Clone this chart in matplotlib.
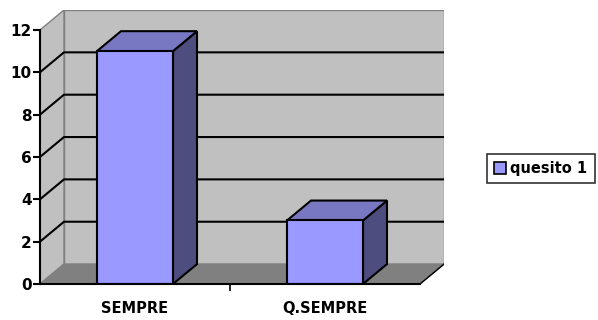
import matplotlib
matplotlib.use("Agg")
import matplotlib.pyplot as plt
from matplotlib.patches import Polygon, Patch

categories = ["SEMPRE", "Q.SEMPRE"]
values = [11, 3]
series_name = "quesito 1"
y_ticks = [0, 2, 4, 6, 8, 10, 12]

plt.rcParams["font.family"] = ["DejaVu Sans"]
plt.rcParams["font.weight"] = "bold"

W, H = 598, 320
fig = plt.figure(figsize=(W / 100, H / 100), dpi=100)

# plot box in pixels: front axis at x=40, back wall right at 444, floor y=284, wall top y=10
left, right, bottom, top = 40, 444, 284, 10
ax = fig.add_axes([left / W, 1 - bottom / H, (right - left) / W, (bottom - top) / H])

ymax = 12
px_per_y = 21.25
dy = 20 / px_per_y            # depth offset in y units
px_per_x = 190
dx = 24 / px_per_x            # depth offset in x units
ax.set_xlim(0, len(categories) + dx)
ax.set_ylim(0, ymax + dy)

wall = "#c0c0c0"
floor = "#808080"
edge = "#808080"
n = len(categories)

# back wall
ax.add_patch(Polygon([(dx, dy), (n + dx, dy), (n + dx, ymax + dy), (dx, ymax + dy)],
                     closed=True, facecolor=wall, edgecolor=edge, lw=1, zorder=1))
# left wall
ax.add_patch(Polygon([(0, 0), (dx, dy), (dx, ymax + dy), (0, ymax)],
                     closed=True, facecolor=wall, edgecolor=edge, lw=1, zorder=1))
# gridlines
for v in y_ticks[1:-1]:
    ax.plot([0, dx, n + dx], [v, v + dy, v + dy], color="black", lw=1.5, zorder=2,
            solid_capstyle="butt")
# floor
ax.add_patch(Polygon([(0, 0), (n, 0), (n + dx, dy), (dx, dy)],
                     closed=True, facecolor=floor, edgecolor=edge, lw=1, zorder=3))
ax.plot([n, n + dx], [0, dy], color="black", lw=1, zorder=3)

# bars
bw = 0.4
front_c = "#9999ff"
top_c = "#7878c2"
side_c = "#4d4d80"
for i, v in enumerate(values):
    c = i + 0.5
    x0, x1 = c - bw / 2, c + bw / 2
    ax.add_patch(Polygon([(x1, 0), (x1 + dx, dy), (x1 + dx, v + dy), (x1, v)],
                         closed=True, facecolor=side_c, edgecolor="black", lw=1.5, zorder=4))
    ax.add_patch(Polygon([(x0, v), (x1, v), (x1 + dx, v + dy), (x0 + dx, v + dy)],
                         closed=True, facecolor=top_c, edgecolor="black", lw=1.5, zorder=4))
    ax.add_patch(Polygon([(x0, 0), (x1, 0), (x1, v), (x0, v)],
                         closed=True, facecolor=front_c, edgecolor="black", lw=1.5, zorder=5))

# axes
for s in ["top", "right"]:
    ax.spines[s].set_visible(False)
ax.spines["left"].set_bounds(0, ymax)
ax.spines["bottom"].set_bounds(0, n)
ax.spines["left"].set_linewidth(1.5)
ax.spines["bottom"].set_linewidth(1.5)
ax.spines["left"].set_zorder(6)
ax.spines["bottom"].set_zorder(6)
ax.set_yticks(y_ticks)
ax.set_yticklabels([str(t) for t in y_ticks])
ax.tick_params(axis="y", direction="out", length=5, width=1.5, pad=1, labelsize=11)
ax.set_xticks([i + 0.5 for i in range(n)])
ax.set_xticklabels(categories)
ax.set_xticks([1], minor=True)
ax.tick_params(axis="x", which="major", length=0, pad=12, labelsize=10.5)
ax.tick_params(axis="x", which="minor", direction="out", length=5, width=1.2)
for lab in ax.get_xticklabels() + ax.get_yticklabels():
    lab.set_fontweight("bold")

leg = fig.legend(handles=[Patch(facecolor=front_c, edgecolor="black", lw=1.2)],
                 labels=[series_name], loc="center",
                 bbox_to_anchor=(541 / W, 1 - 168.5 / H), fancybox=False,
                 edgecolor="black", prop={"size": 10.5, "weight": "bold"},
                 handlelength=0.8, handleheight=0.8, handletextpad=0.3,
                 borderpad=0.5, borderaxespad=0)
leg.get_frame().set_linewidth(1.2)

fig.savefig("out.png", dpi=100)
